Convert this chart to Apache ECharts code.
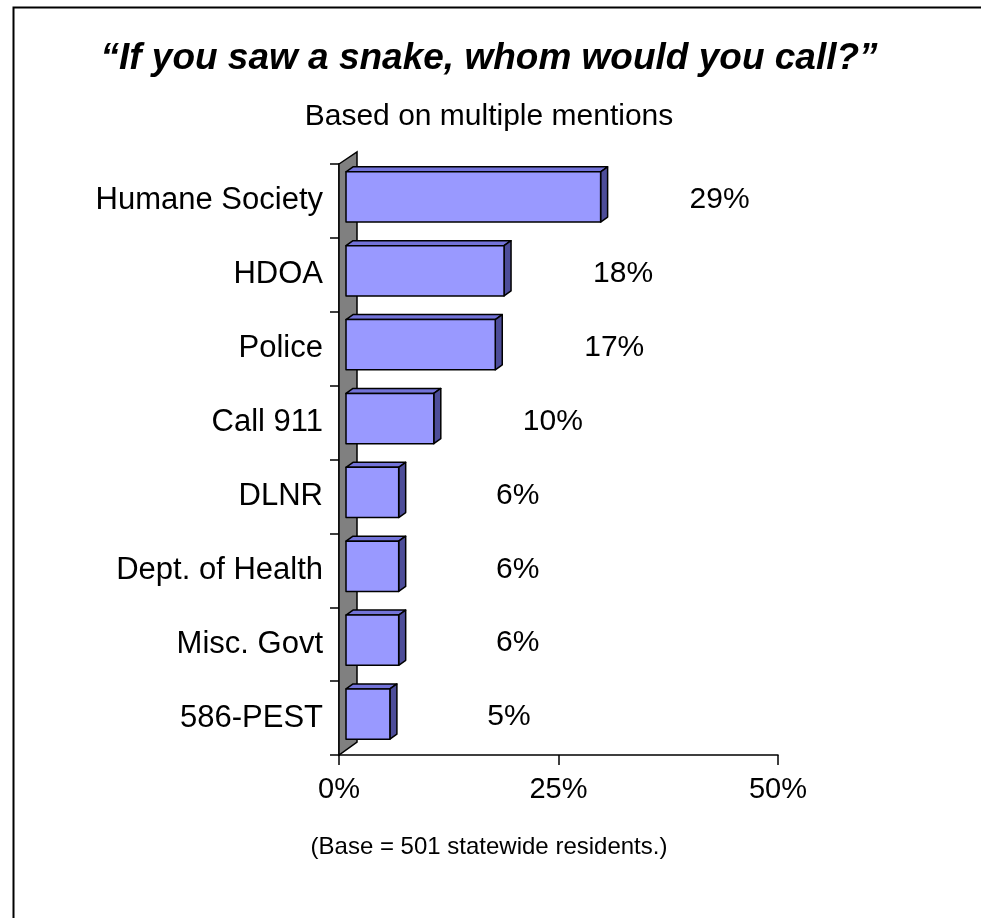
<!DOCTYPE html>
<html>
<head>
<meta charset="utf-8">
<script src="https://cdn.jsdelivr.net/npm/echarts@6/dist/echarts.min.js"></script>
<style>
html,body{margin:0;padding:0;background:#fff;}
#chart{width:981px;height:918px;}
</style>
</head>
<body>
<div id="chart"></div>
<script>
const categories = ['Humane Society','HDOA','Police','Call 911','DLNR','Dept. of Health','Misc. Govt','586-PEST'];
const values = [29, 18, 17, 10, 6, 6, 6, 5];
const xTickMin = 0, xTickMax = 50, xTickStep = 25;
const titleText = '\u201CIf you saw a snake, whom would you call?\u201D';
const subtitleText = 'Based on multiple mentions';
const footnoteText = '(Base = 501 statewide residents.)';

const FONT = "'Liberation Sans', Arial, sans-serif";
const chart = echarts.init(document.getElementById('chart'), null, {renderer: 'canvas'});

function renderItem(params, api) {
  const i = api.value(1), v = api.value(0);
  const c0 = api.coord([0, i]);
  const c1 = api.coord([v, i]);
  const band = api.size([0, 1])[1];
  const children = [];
  const n = categories.length;
  if (params.dataIndex === 0) {
    const yT = c0[1] - band / 2;
    const yB = yT + band * n;
    const x0 = c0[0];
    children.push({
      type: 'polygon', z2: 0,
      shape: {points: [[x0, yT], [x0 + 18, yT - 12], [x0 + 18, yB - 13], [x0, yB]]},
      style: {fill: '#808080', stroke: '#000', lineWidth: 1.5}
    });
  }
  const dx = 7, dy = -4, ddx = 7, ddy = -5;
  const h = band * 0.68;
  const fx0 = c0[0] + dx, fx1 = c1[0] + dx;
  const fyc = c0[1] + dy;
  const fy0 = fyc - h / 2, fy1 = fyc + h / 2;
  const stroke = {stroke: '#000', lineWidth: 1.5, lineJoin: 'round'};
  children.push({
    type: 'polygon', z2: 1,
    shape: {points: [[fx0, fy0], [fx0 + ddx, fy0 + ddy], [fx1 + ddx, fy0 + ddy], [fx1, fy0]]},
    style: Object.assign({fill: '#7373D9'}, stroke)
  });
  children.push({
    type: 'polygon', z2: 1,
    shape: {points: [[fx1, fy0], [fx1 + ddx, fy0 + ddy], [fx1 + ddx, fy1 + ddy], [fx1, fy1]]},
    style: Object.assign({fill: '#4D4D99'}, stroke)
  });
  children.push({
    type: 'rect', z2: 2,
    shape: {x: fx0, y: fy0, width: fx1 - fx0, height: fy1 - fy0},
    style: Object.assign({fill: '#9999FF'}, stroke)
  });
  children.push({
    type: 'text', z2: 3,
    style: {
      text: v + '%', x: fx1 + ddx + 112, y: fyc + 3,
      align: 'center', verticalAlign: 'middle',
      font: '30px ' + FONT, fill: '#000'
    }
  });
  return {type: 'group', children: children};
}

const option = {
  animation: false,
  backgroundColor: '#fff',
  grid: {left: 339, top: 164, width: 439, height: 591, containLabel: false},
  xAxis: {
    type: 'value', min: xTickMin, max: xTickMax, interval: xTickStep,
    axisLine: {show: true, lineStyle: {color: '#000', width: 1.5}},
    axisTick: {show: true, length: 10, lineStyle: {color: '#000', width: 1.5}},
    splitLine: {show: false},
    axisLabel: {formatter: '{value}%', color: '#000', fontSize: 29, fontFamily: FONT, margin: 20}
  },
  yAxis: {
    type: 'category', inverse: true, data: categories,
    axisLine: {show: true, lineStyle: {color: '#000', width: 1.5}},
    axisTick: {show: true, length: 9, lineStyle: {color: '#000', width: 1.5}},
    axisLabel: {color: '#000', fontSize: 31, fontFamily: FONT, margin: 16}
  },
  series: [{
    type: 'custom', clip: false,
    renderItem: renderItem,
    encode: {x: 0, y: 1},
    data: values.map((v, i) => [v, i])
  }],
  graphic: [
    {type: 'rect', left: 11, top: 5, z: -1, shape: {x: 0, y: 0, width: 1000, height: 1000}, style: {fill: 'none', stroke: '#000', lineWidth: 2}},
    {type: 'text', x: 489, y: 59, style: {text: titleText, align: 'center', verticalAlign: 'middle', font: 'italic bold 37px ' + FONT, fill: '#000'}},
    {type: 'text', x: 489, y: 117, style: {text: subtitleText, align: 'center', verticalAlign: 'middle', font: '30px ' + FONT, fill: '#000'}},
    {type: 'text', x: 489, y: 847, style: {text: footnoteText, align: 'center', verticalAlign: 'middle', font: '24px ' + FONT, fill: '#000'}}
  ]
};
chart.setOption(option);
</script>
</body>
</html>
